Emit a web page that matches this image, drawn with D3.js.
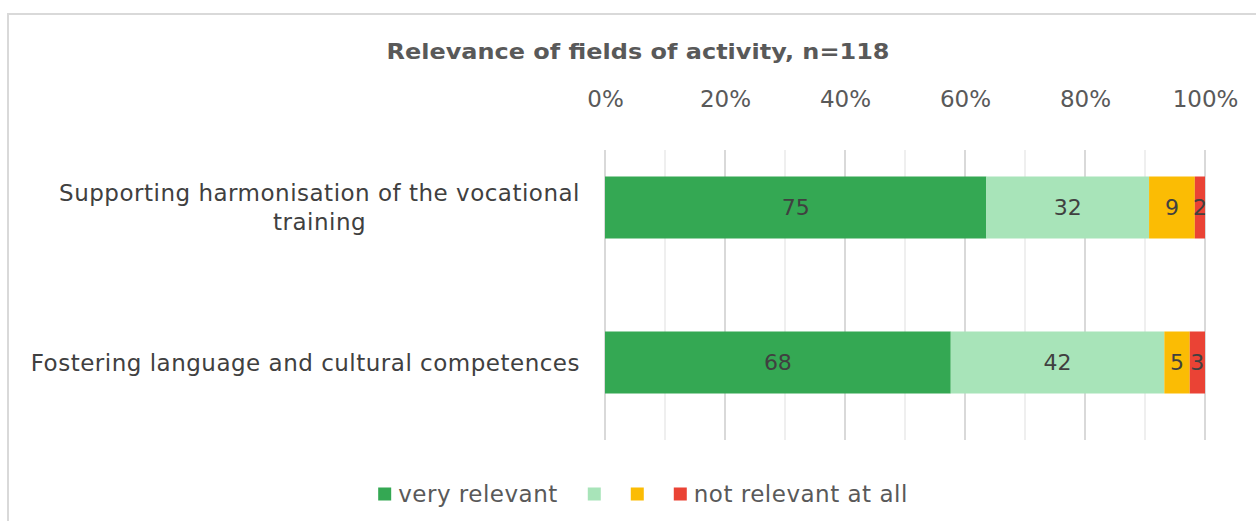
<!DOCTYPE html>
<html>
<head>
<meta charset="utf-8">
<script src="https://cdn.jsdelivr.net/npm/d3@7"></script>
<style>
  html, body { margin: 0; padding: 0; background: #fff; }
  svg { display: block; font-family: "DejaVu Sans", Verdana, sans-serif; }
</style>
</head>
<body>
<div id="chart"></div>
<script>
const title = "Relevance of fields of activity, n=118"
const categories = [
  ["Supporting harmonisation of the vocational", "training"],
  ["Fostering language and cultural competences"]
]
const seriesNames = ["very relevant", "", "", "not relevant at all"]
const seriesColors = ["#34a853", "#a8e4b9", "#fbbc04", "#ea4335"]
const values = [
  [75, 32, 9, 2],
  [68, 42, 5, 3]
]
const tickValues = [0, 0.2, 0.4, 0.6, 0.8, 1]
const gridValues = [0, 0.1, 0.2, 0.3, 0.4, 0.5, 0.6, 0.7, 0.8, 0.9, 1]

const width = 1256
const height = 521
const margin = { top: 130, right: 51, bottom: 81, left: 605 }
const fontSize = 23

const svg = d3.select("#chart")
  .append("svg")
  .attr("width", width)
  .attr("height", height)

// Chart frame
svg.append("rect")
  .attr("x", 8).attr("y", 14)
  .attr("width", 1400).attr("height", 700)
  .attr("fill", "none")
  .attr("stroke", "#d9d9d9")
  .attr("stroke-width", 2)

const x = d3.scaleLinear()
  .domain([0, 1])
  .range([margin.left, width - margin.right])

const y = d3.scaleBand()
  .domain(d3.range(categories.length))
  .range([margin.top, height - margin.bottom])
  .paddingInner(0.6)
  .paddingOuter(0.3)

// Title
svg.append("text")
  .attr("x", 638).attr("y", 59)
  .attr("text-anchor", "middle")
  .attr("font-size", 22)
  .attr("font-weight", "bold")
  .attr("fill", "#595959")
  .attr("textLength", 503)
  .attr("lengthAdjust", "spacingAndGlyphs")
  .text(title)

// Gridlines
svg.append("g")
  .selectAll("line")
  .data(gridValues)
  .join("line")
  .attr("x1", d => x(d)).attr("x2", d => x(d))
  .attr("y1", 150).attr("y2", 440)
  .attr("stroke", (d, i) => i % 2 === 0 ? "#d9d9d9" : "#efefef")
  .attr("stroke-width", 2)

// Top axis labels
const axis = svg.append("g")
  .attr("transform", `translate(0,${107})`)
  .call(d3.axisTop(x).tickValues(tickValues).tickFormat(d3.format(".0%")).tickSize(0).tickPadding(0))
axis.select(".domain").remove()
axis.selectAll("text")
  .attr("font-size", fontSize)
  .attr("font-family", "DejaVu Sans, Verdana, sans-serif")
  .attr("fill", "#595959")
  .attr("dy", 0)

// Stacked bars
const total = values.map(r => d3.sum(r))
const stacked = values.map((row, ci) => {
  let acc = 0
  return row.map((v, si) => {
    const d = { ci, si, v, x0: acc / total[ci], x1: (acc + v) / total[ci] }
    acc += v
    return d
  })
})

const bars = svg.append("g")
bars.selectAll("rect")
  .data(stacked.flat())
  .join("rect")
  .attr("x", d => x(d.x0))
  .attr("y", d => y(d.ci))
  .attr("width", d => x(d.x1) - x(d.x0))
  .attr("height", y.bandwidth())
  .attr("fill", d => seriesColors[d.si])

bars.selectAll("text")
  .data(stacked.flat())
  .join("text")
  .attr("x", d => (x(d.x0) + x(d.x1)) / 2)
  .attr("y", d => y(d.ci) + y.bandwidth() / 2)
  .attr("dy", "0.36em")
  .attr("text-anchor", "middle")
  .attr("font-size", 22)
  .attr("fill", "#404040")
  .text(d => d.v)

// Category labels (wrapped, block right-aligned, lines centered)
const labelRight = 580
const lineH = 29
categories.forEach((lines, ci) => {
  const g = svg.append("g")
  const texts = lines.map(l => g.append("text")
    .attr("font-size", fontSize)
    .attr("letter-spacing", 0.5)
    .attr("fill", "#404040")
    .attr("text-anchor", "middle")
    .text(l))
  const maxW = d3.max(texts, t => t.node().getComputedTextLength())
  const cy = y(ci) + y.bandwidth() / 2
  texts.forEach((t, li) => {
    t.attr("x", labelRight - maxW / 2)
      .attr("y", cy + (li - (lines.length - 1) / 2) * lineH)
      .attr("dy", "0.36em")
  })
})

// Legend
const legend = svg.append("g")
const items = seriesNames.map((name, i) => {
  const g = legend.append("g")
  g.append("rect")
    .attr("width", 13).attr("height", 13)
    .attr("y", -6.5)
    .attr("fill", seriesColors[i])
  const t = g.append("text")
    .attr("x", 20)
    .attr("dy", "0.36em")
    .attr("font-size", fontSize)
    .attr("letter-spacing", 0.5)
    .attr("fill", "#595959")
    .text(name)
  const w = name ? 20 + t.node().getComputedTextLength() : 13
  return { g, w }
})
const gap = 30
const legendW = d3.sum(items, d => d.w) + gap * (items.length - 1)
let lx = 643 - legendW / 2
items.forEach(it => {
  it.g.attr("transform", `translate(${lx},${494})`)
  lx += it.w + gap
})
</script>
</body>
</html>
